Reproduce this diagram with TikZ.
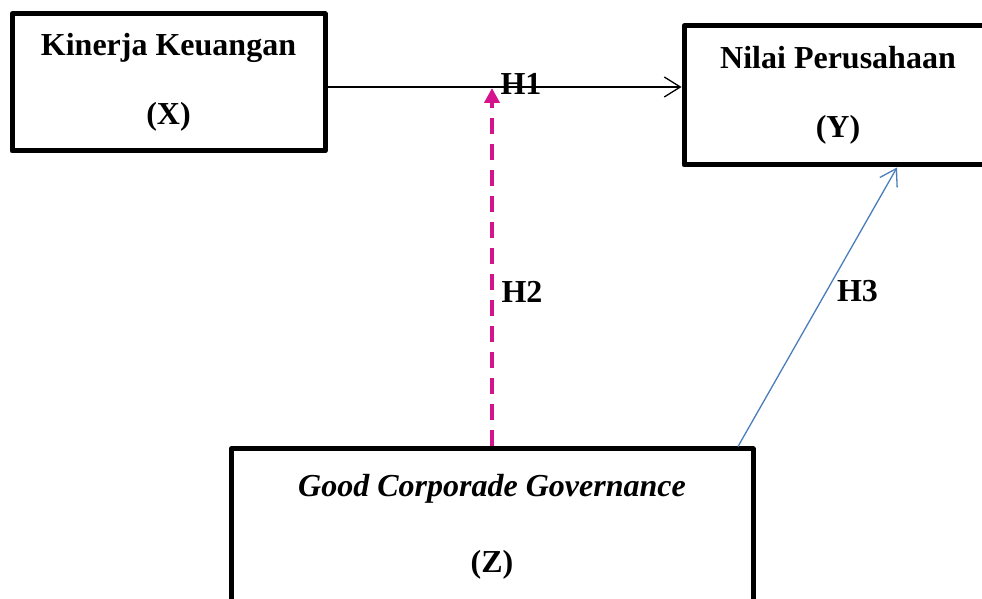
\documentclass[tikz,border=0pt]{standalone}
\usepackage{fontspec}
\setmainfont{Liberation Serif}
\usepackage{xcolor}
\usepackage{tikz}
\usetikzlibrary{arrows.meta, positioning}
\definecolor{modmagenta}{HTML}{D5138C}
\definecolor{linkblue}{HTML}{4A7EBB}

\begin{document}
\begin{tikzpicture}[
    x=0.5pt, y=-0.5pt,
    box/.style={draw, line width=2.5pt, line join=round, align=center, inner sep=0pt, font=\fontsize{16}{34.5}\selectfont\bfseries},
    lbl/.style={inner sep=0pt, font=\fontsize{16}{19}\selectfont\bfseries},
    arrow/.style={-{Straight Barb[length=8pt, width=10pt]}, line width=0.65pt},
    modarrow/.style={-{Triangle[length=7.5pt, width=7.5pt]}, line width=2pt, color=modmagenta, dash pattern=on 8pt off 5pt}
]
\useasboundingbox (0,0) rectangle (982,599);
\clip (0,0) rectangle (982,599);

\node[box, minimum width=156.5pt, minimum height=68.5pt] (X) at (168.5,82.5) {Kinerja Keuangan\\(X)};
\node[box, minimum width=154pt, minimum height=69.5pt] (Y) at (838,95.5) {Nilai Perusahaan\\(Y)};
\node[box, minimum width=261pt, minimum height=77.5pt, font=\fontsize{16}{38}\selectfont\bfseries] (Z) at (492,526.5) {{\itshape Good Corporade Governance}\\(Z)};
\coordinate (modtip) at (492,88);

\draw[arrow] ([yshift=-2.25pt]X.east) -- ([yshift=4.25pt]Y.west);
\draw[modarrow] (Z.north) -- (modtip);
\draw[arrow, color=linkblue] ([xshift=123pt]Z.north) -- ([xshift=29.5pt]Y.south);

\node[lbl] (h1) at (521,84) {H1};
\node[lbl] (h2) at (522,291.5) {H2};
\node[lbl] (h3) at (857.5,291) {H3};
\end{tikzpicture}
\end{document}
